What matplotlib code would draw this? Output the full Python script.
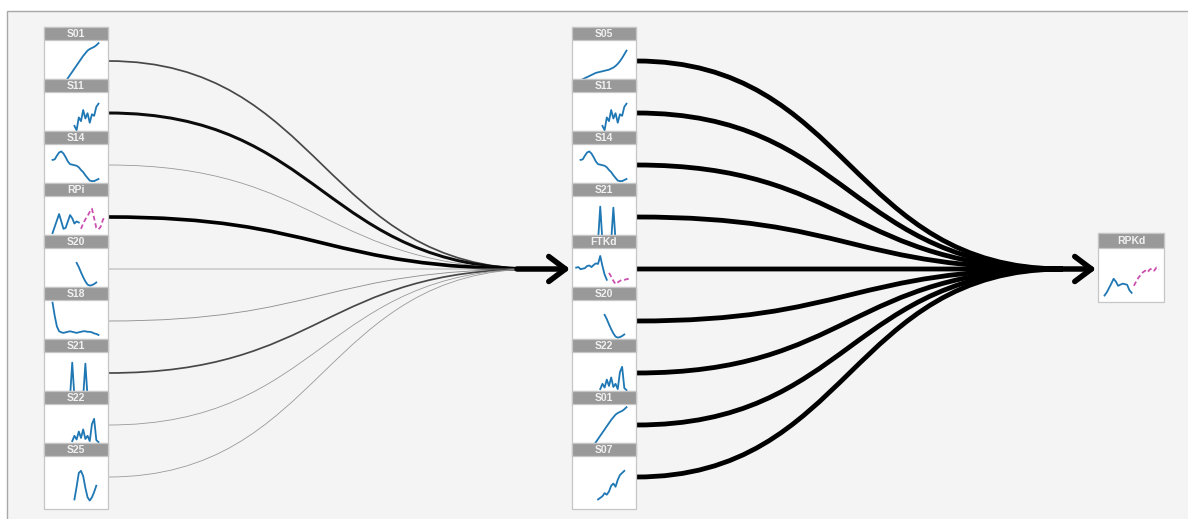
import numpy as np
import matplotlib.pyplot as plt
from matplotlib.patches import Rectangle, PathPatch, FancyArrowPatch
from matplotlib.path import Path

W, H = 1188, 519
PT = 0.72  # points per pixel at dpi 100

BLUE = "#1f77b4"
PINK = "#cc4fb0"

# nodes of each column and the weight of their link to the next node
left_names = ["S01", "S11", "S14", "RPi", "S20", "S18", "S21", "S22", "S25"]
left_weights = [0.35, 0.75, 0.06, 0.95, 0.05, 0.08, 0.35, 0.06, 0.06]
mid_names = ["S05", "S11", "S14", "S21", "FTKd", "S20", "S22", "S01", "S07"]
mid_weights = [1.0, 1.0, 1.0, 1.0, 1.0, 1.0, 1.0, 1.0, 1.0]
target_name = "RPKd"

# sparklines: first time index + observed values (0 = bottom, 1 = top of plot area)
s01_t0 = 8
s01 = [0.22, 0.28, 0.34, 0.40, 0.46, 0.52, 0.58, 0.64, 0.70, 0.75, 0.80, 0.83, 0.85, 0.87, 0.90, 0.94]
s11_t0 = 12
s11 = [0.36, 0.28, 0.52, 0.45, 0.66, 0.50, 0.60, 0.42, 0.58, 0.55, 0.72, 0.78]
s14_t0 = 2
s14 = [0.70, 0.71, 0.78, 0.84, 0.86, 0.82, 0.75, 0.67, 0.62, 0.61, 0.60, 0.59, 0.56, 0.51,
       0.47, 0.41, 0.36, 0.31, 0.30, 0.30, 0.32, 0.34]
rpi_t0 = 2
rpi = [0.30, 0.42, 0.54, 0.66, 0.52, 0.38, 0.40, 0.52, 0.64, 0.58, 0.48, 0.52, 0.50]
s20_t0 = 13
s20 = [0.72, 0.64, 0.54, 0.45, 0.37, 0.31, 0.29, 0.30, 0.32, 0.35]
s18_t0 = 2
s18 = [0.95, 0.70, 0.50, 0.41, 0.39, 0.38, 0.39, 0.40, 0.41, 0.40, 0.39, 0.38, 0.39, 0.40,
       0.41, 0.41, 0.40, 0.40, 0.39, 0.37, 0.36, 0.34]
s21_t0 = 10
s21 = [0.15, 0.80, 0.15, 0.15, 0.15, 0.15, 0.15, 0.78, 0.15]
s22_t0 = 11
s22 = [0.30, 0.40, 0.33, 0.48, 0.36, 0.52, 0.34, 0.40, 0.30, 0.62, 0.72, 0.32, 0.28]
s25_t0 = 12
s25 = [0.18, 0.42, 0.68, 0.72, 0.62, 0.40, 0.22, 0.16, 0.22, 0.32, 0.44]
s05_t0 = 3
s05 = [0.26, 0.28, 0.30, 0.32, 0.34, 0.36, 0.38, 0.39, 0.40, 0.41, 0.42, 0.43, 0.44, 0.46,
       0.48, 0.51, 0.55, 0.60, 0.66, 0.73, 0.80]
ftkd_t0 = 0
ftkd = [0.63, 0.64, 0.60, 0.61, 0.62, 0.66, 0.67, 0.64, 0.68, 0.71, 0.70, 0.85, 0.66, 0.50, 0.40]
s07_t0 = 10
s07 = [0.18, 0.21, 0.24, 0.30, 0.27, 0.33, 0.44, 0.48, 0.42, 0.55, 0.64, 0.68, 0.72]
rpkd_t0 = 1
rpkd = [0.12, 0.18, 0.26, 0.34, 0.43, 0.38, 0.30, 0.32, 0.34, 0.33, 0.32, 0.22, 0.17]

# forecasts (dashed)
rpi_fc_t0 = 15
rpi_fc = [0.38, 0.48, 0.56, 0.62, 0.70, 0.76, 0.58, 0.40, 0.37, 0.42, 0.55, 0.62]
ftkd_fc_t0 = 15
ftkd_fc = [0.53, 0.46, 0.38, 0.32, 0.35, 0.38, 0.40, 0.40, 0.41, 0.42, 0.43]
rpkd_fc_t0 = 14
rpkd_fc = [0.30, 0.38, 0.45, 0.50, 0.55, 0.58, 0.55, 0.60, 0.62, 0.58, 0.64, 0.60]

observed = {"S01": (s01_t0, s01), "S11": (s11_t0, s11), "S14": (s14_t0, s14),
            "RPi": (rpi_t0, rpi), "S20": (s20_t0, s20), "S18": (s18_t0, s18),
            "S21": (s21_t0, s21), "S22": (s22_t0, s22), "S25": (s25_t0, s25),
            "S05": (s05_t0, s05), "FTKd": (ftkd_t0, ftkd), "S07": (s07_t0, s07),
            "RPKd": (rpkd_t0, rpkd)}
forecast = {"RPi": (rpi_fc_t0, rpi_fc), "FTKd": (ftkd_fc_t0, ftkd_fc),
            "RPKd": (rpkd_fc_t0, rpkd_fc)}


def spark_xy(x, y, w, h, hh, t0, vals):
    t = np.arange(t0, t0 + len(vals))
    xs = x + w * (0.065 + 0.0342 * t)
    ys = y + h - np.array(vals) * (h - hh)
    return xs, ys


def draw_box(ax, x, y, w, h, hh, name, z):
    body = Rectangle((x, y), w, h, fc="white", ec="#c6c6c6", lw=0.9, zorder=z)
    ax.add_patch(body)
    xs, ys = spark_xy(x, y, w, h, hh, *observed[name])
    ln, = ax.plot(xs, ys, color=BLUE, lw=1.3, zorder=z + 0.1, solid_joinstyle="round")
    ln.set_clip_path(body)
    if name in forecast:
        xs, ys = spark_xy(x, y, w, h, hh, *forecast[name])
        ln, = ax.plot(xs, ys, color=PINK, lw=1.3, ls=(0, (2.6, 1.6)), zorder=z + 0.1)
        ln.set_clip_path(body)
    ax.add_patch(Rectangle((x, y), w, hh, fc="#999999", ec="#c6c6c6", lw=0.9, zorder=z + 0.2))
    ax.text(x + w / 2, y + hh / 2 + 0.5, name, ha="center", va="center", color="#f0f0f0",
            fontsize=7.5, fontweight="bold", family=["Liberation Sans", "DejaVu Sans"],
            zorder=z + 0.3)


def link(ax, x0, y0, x1, y1, w, lw_px):
    cx = (x0 + x1) / 2
    p = Path([(x0, y0), (cx, y0), (cx, y1), (x1, y1)],
             [Path.MOVETO, Path.CURVE4, Path.CURVE4, Path.CURVE4])
    grey = 0.66 * (1 - w) ** 2
    ax.add_patch(PathPatch(p, fc="none", ec=str(grey), lw=lw_px * PT, zorder=2,
                           capstyle="butt"))


def arrow(ax, x0, x1, y):
    ax.add_patch(FancyArrowPatch((x0, y), (x1, y),
                                 arrowstyle="->,head_length=0.6,head_width=0.45",
                                 mutation_scale=20, lw=5.5 * PT, color="black",
                                 shrinkA=0, shrinkB=0, zorder=3))


fig = plt.figure(figsize=(W / 100, H / 100), dpi=100)
ax = fig.add_axes([0, 0, 1, 1])
ax.set_xlim(0, W)
ax.set_ylim(H, 0)
ax.axis("off")

ax.add_patch(Rectangle((7, 11), W, H, fc="#f4f4f4", ec="#a8a8a8", lw=1.0, zorder=0))

bw, bh, hh = 64, 66, 13
top, pitch = 27, 52
col_x = [44, 572]
tx, ty, tw, th = 1098, 233, 66, 69
hub_y = top + 4 * pitch + 34

# links from left column to middle hub
for i, w in enumerate(left_weights):
    y0 = top + i * pitch + 34
    link(ax, col_x[0] + bw, y0, col_x[1] - 35, hub_y, w, 0.6 + 3.2 * w)
arrow(ax, col_x[1] - 55, col_x[1] - 2, hub_y)

for i, w in enumerate(mid_weights):
    y0 = top + i * pitch + 34
    link(ax, col_x[1] + bw, y0, tx - 35, hub_y, w, 4.8 * w)
arrow(ax, tx - 55, tx - 2, hub_y)

for c, names in enumerate([left_names, mid_names]):
    for i, name in enumerate(names):
        draw_box(ax, col_x[c], top + i * pitch, bw, bh, hh, name, 10 + i)

draw_box(ax, tx, ty, tw, th, 15, target_name, 30)

fig.savefig("out.png", dpi=100)
